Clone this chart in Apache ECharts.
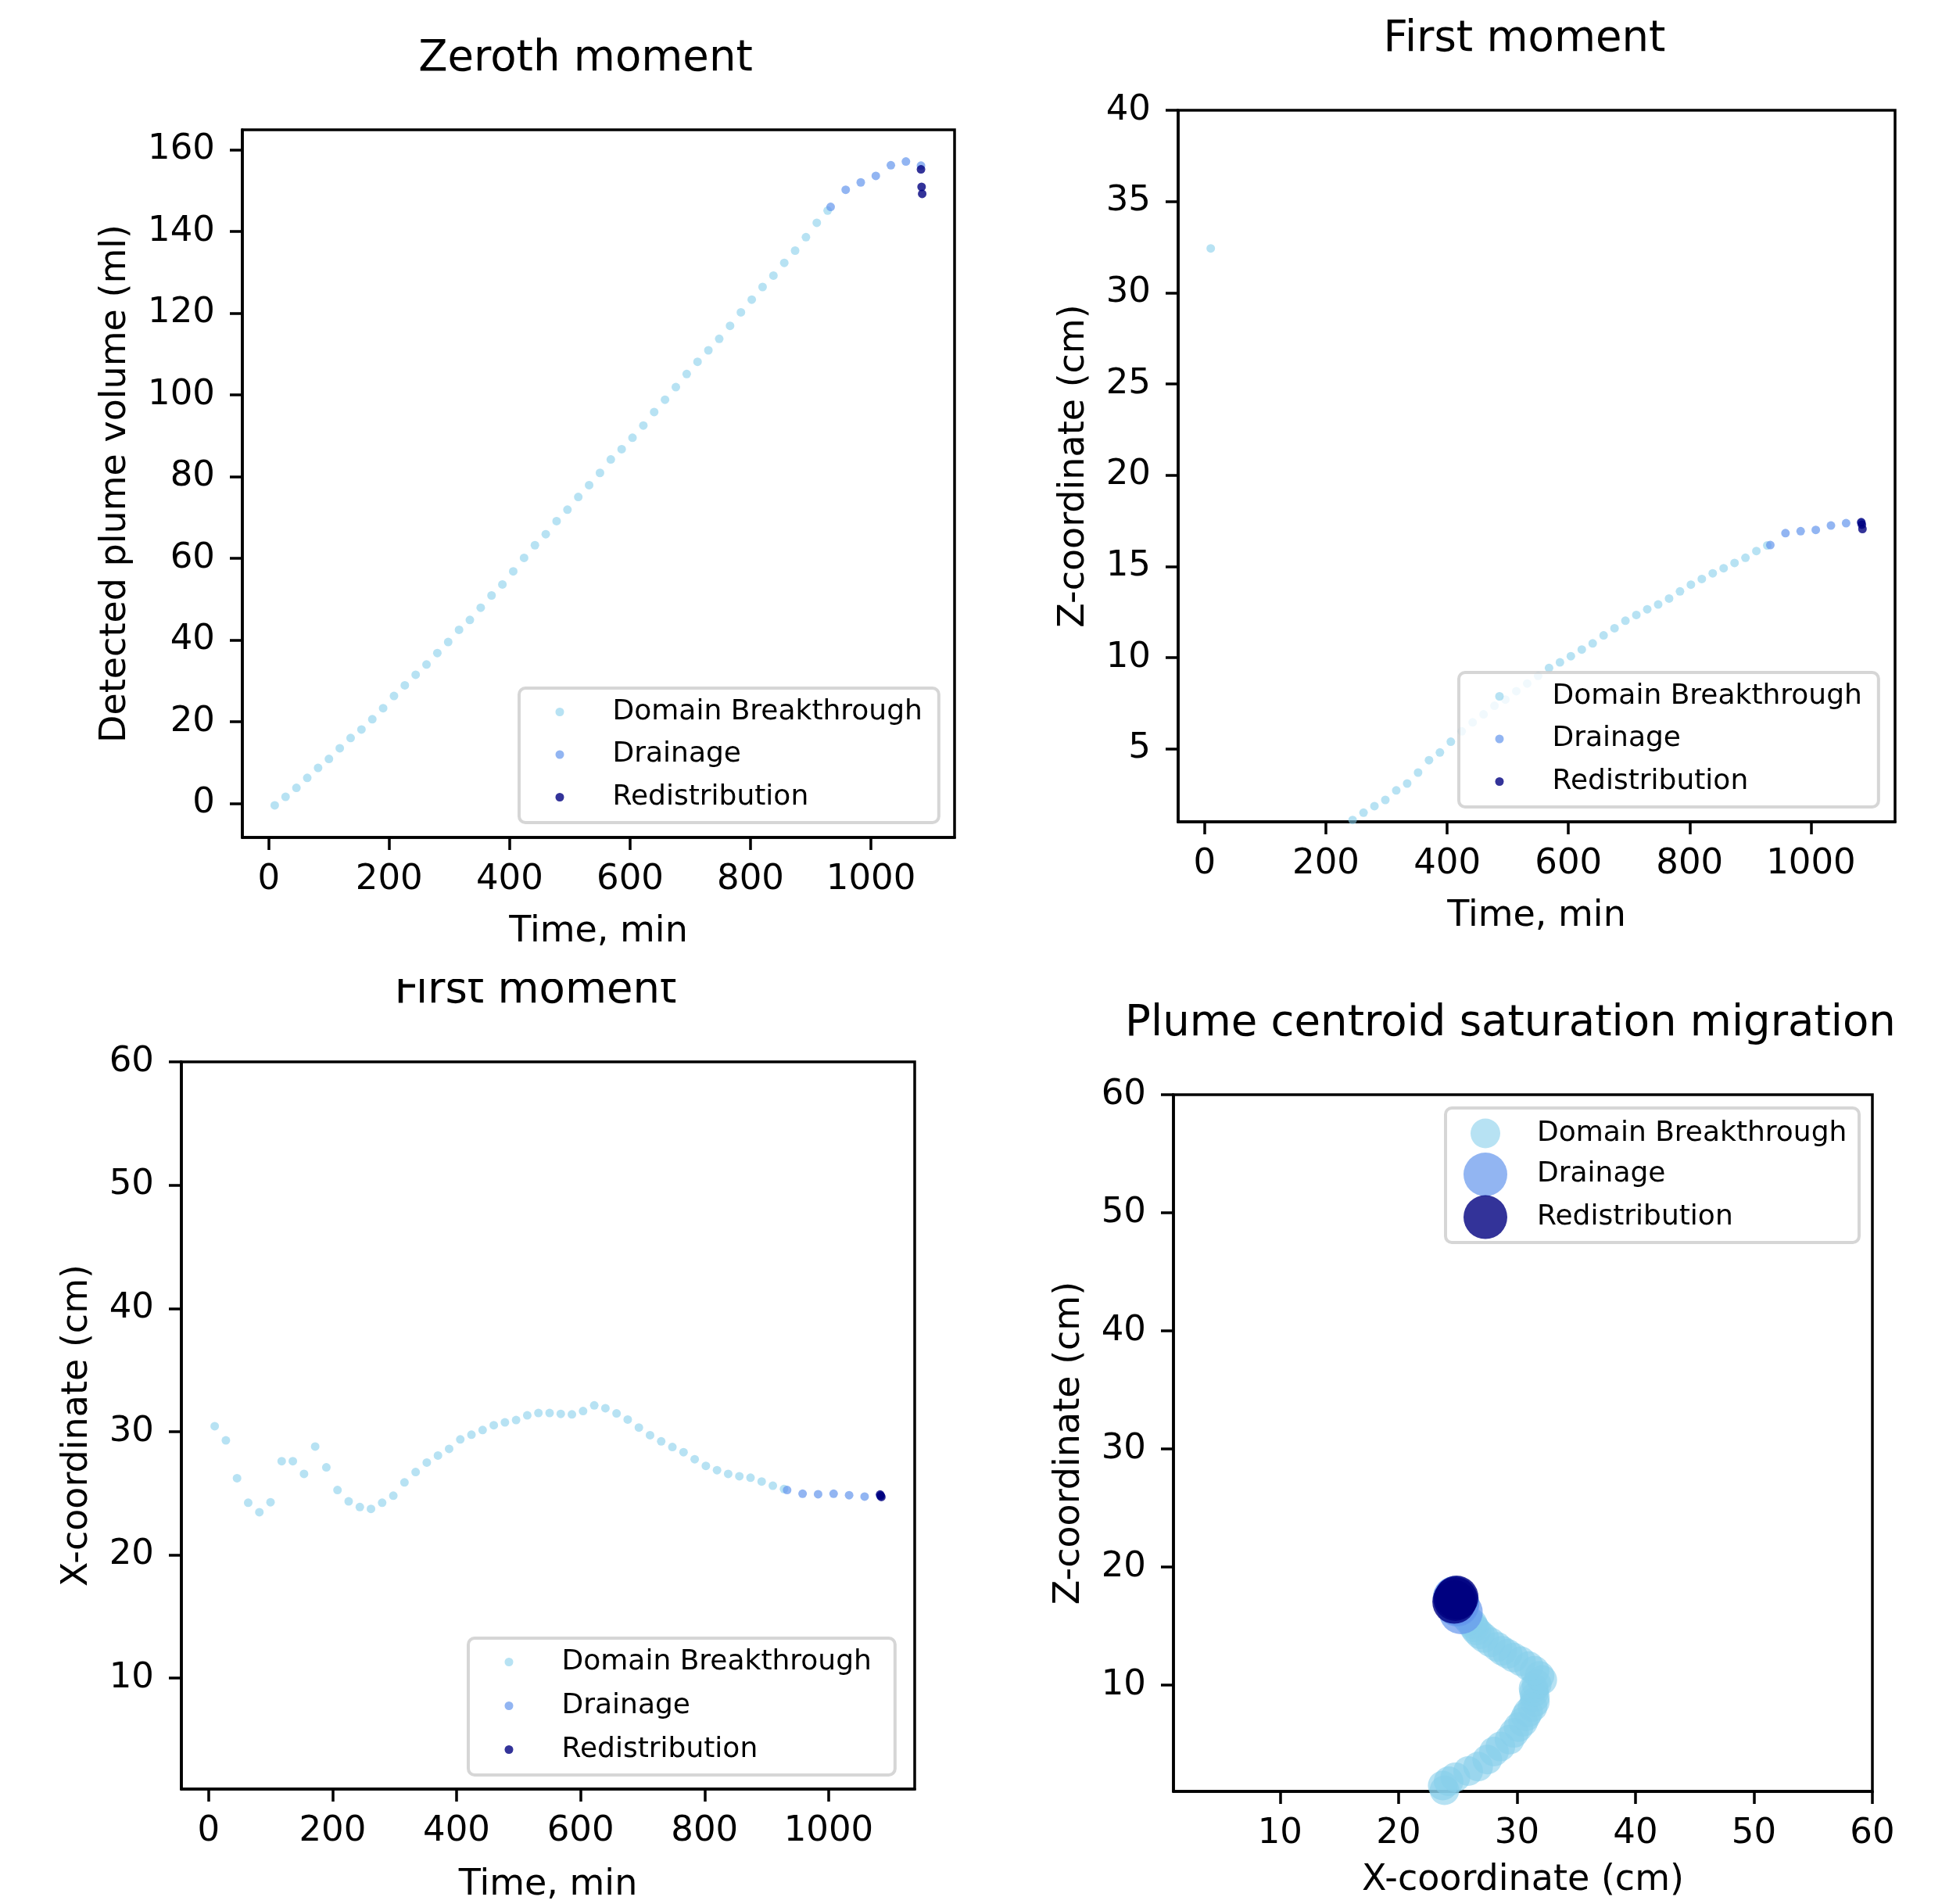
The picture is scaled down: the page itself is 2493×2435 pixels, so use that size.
<!DOCTYPE html>
<html><head><meta charset="utf-8">
<script src="https://cdn.jsdelivr.net/npm/echarts@6/dist/echarts.min.js"></script>
<style>html,body{margin:0;padding:0;background:#fff}#c{width:2493px;height:2435px}</style>
</head><body><div id="c"></div>
<script>
// ---------- data ----------
const seriesNames = ['Domain Breakthrough', 'Drainage', 'Redistribution'];

// Domain breakthrough stage
const breakthroughTime = [10, 28, 46, 64, 82, 100, 118, 136, 154, 172, 190, 208, 226, 244, 262, 280, 298, 316, 334, 352,
  370, 388, 406, 424, 442, 460, 478, 496, 514, 532, 550, 568, 586, 604, 622, 640, 658, 676, 694, 712,
  730, 748, 766, 784, 802, 820, 838, 856, 874, 892, 910, 928];
const breakthroughVolume = [-0.46, 1.6, 3.8, 6.25, 8.7, 10.9, 13.5, 16.0, 18.1, 20.6, 23.3, 26.3, 28.9, 31.5, 34.0, 36.8, 39.5, 42.5, 44.9, 47.9,
  50.9, 53.6, 56.8, 60.1, 63.2, 65.9, 69.1, 71.9, 75.0, 77.9, 80.9, 84.2, 86.7, 89.5, 92.5, 95.8, 98.8, 101.9, 105.1, 108.1,
  110.9, 113.7, 116.9, 120.2, 123.3, 126.4, 129.2, 132.3, 135.3, 138.6, 142.1, 145.1];
// values at indices 1..12 lie below the visible z range (estimated)
const breakthroughZ = [32.43, -3.1, -2.4, -2.6, -1.9, -1.5, -1.6, -1.0, -0.7, -0.3, -0.1, 0.3, 0.7,
  1.1, 1.5, 1.86, 2.2, 2.72, 3.1, 3.7, 4.38, 4.8, 5.39, 5.96, 6.45, 6.89, 7.36, 7.7, 8.16, 8.58, 9.0, 9.43, 9.74,
  10.08, 10.44, 10.78, 11.22, 11.61, 12.02, 12.34, 12.65, 12.91, 13.24, 13.63, 14.0, 14.31, 14.62, 14.9, 15.19, 15.47, 15.84, 16.15];
const breakthroughX = [30.44, 29.29, 26.22, 24.23, 23.46, 24.27, 27.60, 27.60, 26.57, 28.79,
  27.10, 25.26, 24.34, 23.88, 23.73, 24.23, 24.80, 25.88, 26.72, 27.49,
  28.06, 28.60, 29.37, 29.75, 30.13, 30.52, 30.75, 30.94, 31.32, 31.51,
  31.51, 31.44, 31.40, 31.67, 32.13, 31.90, 31.48, 30.98, 30.33, 29.71,
  29.21, 28.75, 28.33, 27.76, 27.22, 26.87, 26.57, 26.38, 26.26, 25.95, 25.61, 25.34];

// Drainage stage
const drainageTime = [933, 958, 983, 1008, 1033, 1058, 1083];
const drainageVolume = [146.0, 150.2, 152.0, 153.6, 156.2, 157.1, 156.1];
const drainageZ = [16.17, 16.82, 16.93, 17.0, 17.24, 17.37, 17.39];
const drainageX = [25.26, 24.96, 24.92, 24.96, 24.84, 24.73, 24.80];

// Redistribution stage
const redistTime = [1083, 1084, 1085];
const redistVolume = [155.2, 150.9, 149.2];
const redistZ = [17.42, 17.29, 17.05];
const redistX = [24.9, 24.8, 24.7];

// tick labels
const timeTicks = [0, 200, 400, 600, 800, 1000];
const volumeTicks = [0, 20, 40, 60, 80, 100, 120, 140, 160];
const zTicks = [5, 10, 15, 20, 25, 30, 35, 40];
const coordTicks = [10, 20, 30, 40, 50, 60];

// ---------- style ----------
const FONT = 'DejaVu Sans';
const C_LIGHT = 'rgba(135,206,235,0.6)';
const C_DRAIN = 'rgba(100,149,237,0.7)';
const C_REDIST = 'rgba(0,0,128,0.8)';
const W = 2493, H = 2435;

const grids = [
  {left: 310, top: 166, width: 911, height: 905},
  {left: 1507, top: 141, width: 917, height: 910},
  {left: 232, top: 1358, width: 938, height: 931},
  {left: 1501, top: 1400, width: 894, height: 891}
].map(g => Object.assign({show: true, borderColor: '#000', borderWidth: 3.5, backgroundColor: 'transparent', containLabel: false}, g));

function axis(gridIndex, min, max, ticks, name, nameGap, isY) {
  return {
    type: 'value', gridIndex, min, max, name, nameLocation: 'middle', nameGap,
    nameTextStyle: {fontSize: 46, color: '#000', fontFamily: FONT},
    axisLine: {show: true, onZero: false, lineStyle: {color: '#000', width: 3.5}},
    axisTick: {show: true, inside: false, length: 16, lineStyle: {color: '#000', width: 3.5}, customValues: ticks},
    axisLabel: {show: true, fontSize: 45, color: '#000', fontFamily: FONT, margin: isY ? 35 : 32,
      customValues: ticks, formatter: v => String(v)},
    splitLine: {show: false}
  };
}

const xAxes = [
  axis(0, -43.75, 1138.75, timeTicks, 'Time, min', 98, false),
  axis(1, -43.75, 1138.75, timeTicks, 'Time, min', 98, false),
  axis(2, -43.75, 1138.75, timeTicks, 'Time, min', 100, false),
  axis(3, 1, 60, coordTicks, 'X-coordinate (cm)', 91, false)
];
const yAxes = [
  axis(0, -8.33, 164.87, volumeTicks, 'Detected plume volume (ml)', 139, true),
  axis(1, 1, 40, zTicks, 'Z-coordinate (cm)', 110, true),
  axis(2, 1, 60, coordTicks, 'X-coordinate (cm)', 110, true),
  axis(3, 1, 60, coordTicks, 'Z-coordinate (cm)', 110, true)
];

function pairs(a, b) { return a.map((v, i) => [v, b[i]]); }
function sc(name, idx, data, color, size) {
  return {type: 'scatter', name, xAxisIndex: idx, yAxisIndex: idx, data, symbol: 'circle', symbolSize: size,
    clip: true, itemStyle: {color, opacity: 1, borderWidth: 0}, emphasis: {disabled: true}, silent: true, animation: false};
}

const series = [
  sc(seriesNames[0], 0, pairs(breakthroughTime, breakthroughVolume), C_LIGHT, 11),
  sc(seriesNames[1], 0, pairs(drainageTime, drainageVolume), C_DRAIN, 11),
  sc(seriesNames[2], 0, pairs(redistTime, redistVolume), C_REDIST, 11),
  sc(seriesNames[0], 1, pairs(breakthroughTime, breakthroughZ), C_LIGHT, 11),
  sc(seriesNames[1], 1, pairs(drainageTime, drainageZ), C_DRAIN, 11),
  sc(seriesNames[2], 1, pairs(redistTime, redistZ), C_REDIST, 11),
  sc(seriesNames[0], 2, pairs(breakthroughTime, breakthroughX), C_LIGHT, 11),
  sc(seriesNames[1], 2, pairs(drainageTime, drainageX), C_DRAIN, 11),
  sc(seriesNames[2], 2, pairs(redistTime, redistX), C_REDIST, 11),
  sc(seriesNames[0], 3, pairs(breakthroughX.slice(1), breakthroughZ.slice(1)), C_LIGHT, 38),
  sc(seriesNames[1], 3, pairs(drainageX, drainageZ), C_DRAIN, 56),
  sc(seriesNames[2], 3, pairs(redistX, redistZ), C_REDIST, 56)
];

function legendText(padLeft) {
  return {fontSize: 36, lineHeight: 45, color: '#000', fontFamily: FONT,
    rich: {t: {fontSize: 36, lineHeight: 45, color: '#000', fontFamily: FONT, padding: [0, 0, 0, padLeft]}}};
}
const fmt = name => '{t|' + name + '}';
function boxedLegend(left, top, gap, padRight) {
  return {data: seriesNames, orient: 'vertical', left, top, padding: [8, padRight, 10, 46.5],
    itemWidth: 11, itemHeight: 11, itemGap: gap, icon: 'circle', selectedMode: false,
    backgroundColor: 'rgba(255,255,255,0.8)', borderColor: 'rgba(204,204,204,0.8)', borderWidth: 4, borderRadius: 8,
    formatter: fmt, textStyle: legendText(57)};
}
const legends = [
  boxedLegend(664, 880, 9.5, 21),
  boxedLegend(1866, 860, 9.5, 21),
  boxedLegend(599, 2095, 11, 30),
  {data: [seriesNames[0]], orient: 'vertical', left: 1881, top: 1427, padding: 0, itemWidth: 38, itemHeight: 38,
    icon: 'circle', selectedMode: false, formatter: fmt, textStyle: legendText(42)},
  {data: [seriesNames[1], seriesNames[2]], orient: 'vertical', left: 1872, top: 1474, padding: 0, itemWidth: 56, itemHeight: 56,
    itemGap: -1.4, icon: 'circle', selectedMode: false, formatter: fmt, textStyle: legendText(33)}
];

function ttl(text, cx, top) {
  return {text, left: cx, top, textAlign: 'center', padding: 0,
    textStyle: {fontSize: 54.5, fontWeight: 'normal', color: '#000', fontFamily: FONT}};
}
const titles = [
  ttl('Zeroth moment', 749, 48),
  ttl('First moment', 1950, 23),
  ttl('First moment', 685, 1240),
  ttl('Plume centroid saturation migration', 1932, 1282)
];

const chart = echarts.init(document.getElementById('c'), null, {renderer: 'canvas', width: W, height: H});
chart.setOption({
  backgroundColor: '#fff',
  animation: false,
  title: titles,
  grid: grids,
  xAxis: xAxes,
  yAxis: yAxes,
  legend: legends,
  graphic: [
    {type: 'rect', z: 3, shape: {x: 1849, y: 1417, width: 529, height: 172, r: 8},
      style: {fill: 'rgba(255,255,255,0.8)', stroke: 'rgba(204,204,204,0.8)', lineWidth: 4}, silent: true},
    // the reference cuts off the top of the lower-left title
    {type: 'rect', z: 100, shape: {x: 470, y: 1228, width: 440, height: 24},
      style: {fill: '#fff'}, silent: true}
  ],
  series
});
</script></body></html>
